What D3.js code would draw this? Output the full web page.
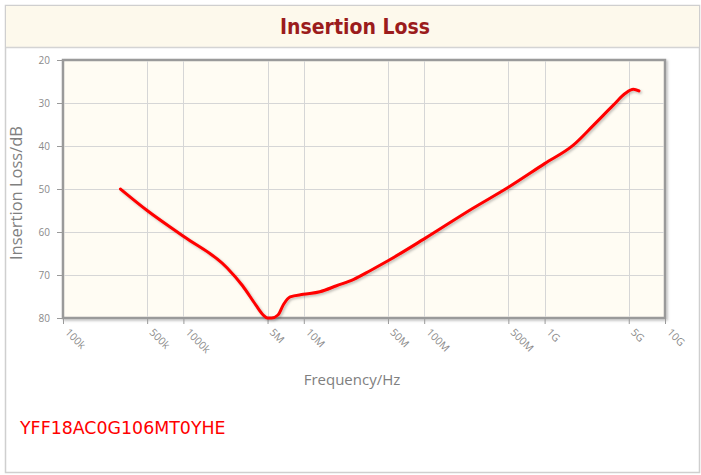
<!DOCTYPE html>
<html><head><meta charset="utf-8">
<script src="https://cdn.jsdelivr.net/npm/d3@7/dist/d3.min.js"></script>
<style>body{margin:0;background:#fff}svg{display:block}</style>
</head><body>
<script>
const title = "Insertion Loss";
const partNumber = "YFF18AC0G106MT0YHE";
const xLabel = "Frequency/Hz";
const yLabel = "Insertion Loss/dB";
const xTickValues = [1e5, 5e5, 1e6, 5e6, 1e7, 5e7, 1e8, 5e8, 1e9, 5e9, 1e10];
const xTickLabels = ["100k", "500k", "1000k", "5M", "10M", "50M", "100M", "500M", "1G", "5G", "10G"];
const yTickValues = [20, 30, 40, 50, 60, 70, 80];
const freq = [3e5, 5e5, 1e6, 2.3e6, 3.1e6, 4.0e6, 4.6e6, 5.0e6, 5.4e6, 6.1e6, 6.8e6, 7.7e6, 9.9e6, 1.36e7, 1.87e7, 2.6e7, 3.55e7, 5e7, 1e8, 2.5e8, 5e8, 1e9, 1.73e9, 2.54e9, 3.72e9, 4.66e9, 5.46e9, 6.08e9];
const loss = [50, 55, 61, 68.3, 72.5, 77, 79.3, 80, 80, 79.3, 76.8, 75.1, 74.5, 73.9, 72.5, 71.0, 69.0, 66.7, 61.6, 54.6, 49.6, 44.1, 39.8, 35.2, 30.5, 27.8, 26.8, 27.2];

const W = 701, H = 475;
const svg = d3.select("body").append("svg").attr("width", W).attr("height", H);
const defs = svg.append("defs");
const f = defs.append("filter").attr("id", "sh").attr("x", "-10%").attr("y", "-10%").attr("width", "130%").attr("height", "130%");
f.append("feDropShadow").attr("dx", 1.5).attr("dy", 1.5).attr("stdDeviation", 1).attr("flood-color", "#000").attr("flood-opacity", 0.25);

// outer frame
svg.append("rect").attr("x", 5.5).attr("y", 5.5).attr("width", 694).attr("height", 467)
  .attr("fill", "#fff").attr("stroke", "#cfcfcf").attr("stroke-width", 1.5);
svg.append("rect").attr("x", 6).attr("y", 6).attr("width", 693).attr("height", 41)
  .attr("fill", "#fdf9ec");
svg.append("line").attr("x1", 6).attr("x2", 699).attr("y1", 47.5).attr("y2", 47.5)
  .attr("stroke", "#d4d4d4").attr("stroke-width", 1.5);
svg.append("text").attr("x", 355).attr("y", 33.5).attr("text-anchor", "middle")
  .attr("font-family", "'DejaVu Sans Condensed','DejaVu Sans',sans-serif").attr("font-weight", "bold")
  .attr("font-size", 21).attr("fill", "#9b1c1c").text(title);

const L = 63, R = 665, T = 60, B = 318;
const x = d3.scaleLog().domain([1e5, 1e10]).range([L, R]);
const y = d3.scaleLinear().domain([20, 80]).range([T, B]);

// plot area
svg.append("rect").attr("x", L).attr("y", T).attr("width", R - L).attr("height", B - T)
  .attr("fill", "#fffcf3").attr("stroke", "#9a9a9a").attr("stroke-width", 2.5).attr("filter", "url(#sh)");

const grid = svg.append("g").attr("stroke", "#d6d6d6").attr("stroke-width", 1);
grid.selectAll("line.v").data(xTickValues.slice(1, -1)).join("line")
  .attr("x1", d => Math.round(x(d)) + 0.5).attr("x2", d => Math.round(x(d)) + 0.5)
  .attr("y1", T + 1).attr("y2", B - 1);
grid.selectAll("line.h").data(yTickValues.slice(1, -1)).join("line")
  .attr("x1", L + 1).attr("x2", R - 1)
  .attr("y1", d => Math.round(y(d)) + 0.5).attr("y2", d => Math.round(y(d)) + 0.5);

// x axis
const xAxis = d3.axisBottom(x).tickValues(xTickValues).tickSize(5)
  .tickFormat((d, i) => xTickLabels[i]);
const gx = svg.append("g").attr("transform", `translate(0,${B + 1})`).call(xAxis);
gx.select(".domain").remove();
gx.selectAll(".tick line").attr("stroke", "#9a9a9a");
gx.selectAll(".tick text").attr("fill", "#8a8a8a").attr("font-family", "'Open Sans',sans-serif")
  .attr("font-size", 10.5).attr("text-anchor", "start").attr("dy", 0).attr("y", 0)
  .attr("transform", "translate(1,14) rotate(45)");

// y axis
const yAxis = d3.axisLeft(y).tickValues(yTickValues).tickSize(5);
const gy = svg.append("g").attr("transform", `translate(${L - 1},0)`).call(yAxis);
gy.select(".domain").remove();
gy.selectAll(".tick line").attr("stroke", "#9a9a9a");
gy.selectAll(".tick text").attr("fill", "#8a8a8a").attr("font-family", "'Open Sans',sans-serif")
  .attr("font-size", 10).attr("x", -12);

// axis titles
svg.append("text").attr("x", 352).attr("y", 385).attr("text-anchor", "middle")
  .attr("font-family", "'Open Sans',sans-serif").attr("font-size", 15).attr("fill", "#808080").text(xLabel);
svg.append("text").attr("transform", "translate(22,193) rotate(-90)").attr("text-anchor", "middle")
  .attr("font-family", "'Open Sans',sans-serif").attr("font-size", 16.5).attr("fill", "#808080").text(yLabel);

// curve
const data = freq.map((f, i) => ({ f, v: loss[i] }));
const line = d3.line().x(d => x(d.f)).y(d => y(d.v)).curve(d3.curveMonotoneX);
svg.append("path").datum(data).attr("d", line).attr("fill", "none")
  .attr("stroke", "#ff0000").attr("stroke-width", 3).attr("stroke-linejoin", "round")
  .attr("stroke-linecap", "round").attr("filter", "url(#sh)");

svg.append("text").attr("x", 20).attr("y", 434)
  .attr("font-family", "'DejaVu Sans',sans-serif").attr("font-size", 17.4).attr("fill", "#ff0000").text(partNumber);
</script>
</body></html>
